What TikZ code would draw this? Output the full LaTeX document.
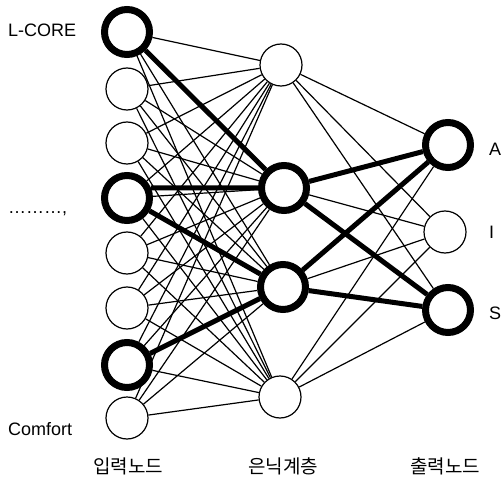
\documentclass[tikz,border=0pt]{standalone}
\usepackage{fontspec}
\setmainfont{Liberation Sans}
\newfontfamily\krfont{Noto Sans CJK KR}
\begin{document}
\begin{tikzpicture}[x=1pt,y=-1pt,
  neuron/.style={circle,draw=black,fill=white,minimum size=42pt,inner sep=0pt,line width=1.2pt},
  active/.style={neuron,line width=7pt,minimum size=45pt},
  thinedge/.style={line width=1.2pt},
  thickedge/.style={line width=5pt},
  lbl/.style={font=\fontsize{18}{20}\selectfont,inner sep=0pt},
  krlbl/.style={font=\krfont\fontsize{19}{20}\selectfont,inner sep=0pt}
]
\useasboundingbox (0,0) rectangle (503,481);
\fill[white] (0,0) rectangle (503,481);
% input layer
\node[active] (in1) at (127,32) {};
\node[neuron] (in2) at (127,89) {};
\node[neuron] (in3) at (127,143) {};
\node[active] (in4) at (127,198) {};
\node[neuron] (in5) at (127,253) {};
\node[neuron] (in6) at (127,308) {};
\node[active] (in7) at (127,365) {};
\node[neuron] (in8) at (127,418) {};
% hidden layer
\node[neuron] (h1) at (281,65) {};
\node[active] (h2) at (284,188) {};
\node[active] (h3) at (283,287) {};
\node[neuron] (h4) at (280,397) {};
% output layer
\node[active] (oA) at (448,145) {};
\node[neuron] (oI) at (445,232) {};
\node[active] (oS) at (448,310) {};
% thin connections
\foreach \i in {1,...,8}
  \foreach \j in {1,...,4}
    \draw[thinedge] (in\i) -- (h\j);
\foreach \j in {1,...,4}
  \foreach \k in {A,I,S}
    \draw[thinedge] (h\j) -- (o\k);
% strong connections
\draw[thickedge] (in1) -- (h2);
\draw[thickedge] (in4.23) -- (h2);
\draw[thickedge] (in4) -- (h3);
\draw[thickedge] (in7) -- (h3);
\draw[thickedge] (h2) -- (oA);
\draw[thickedge] (h2) -- (oS);
\draw[thickedge] (h3) -- (oA);
\draw[thickedge] (h3) -- (oS);
% labels
\node[lbl,anchor=west] (tL) at (8,30) {L-CORE};
\node[lbl,anchor=base west] (tD) at (8,213) {………,};
\node[lbl,anchor=west] (tC) at (8,429) {Comfort};
\node[lbl,anchor=west] (tA) at (489,149) {A};
\node[lbl,anchor=west] (tI) at (489,232) {I};
\node[lbl,anchor=west] (tS) at (489,313) {S};
\node[krlbl] (k1) at (128,466) {입력노드};
\node[krlbl] (k2) at (283,466) {은닉계층};
\node[krlbl] (k3) at (445,466) {출력노드};
\end{tikzpicture}
\end{document}
